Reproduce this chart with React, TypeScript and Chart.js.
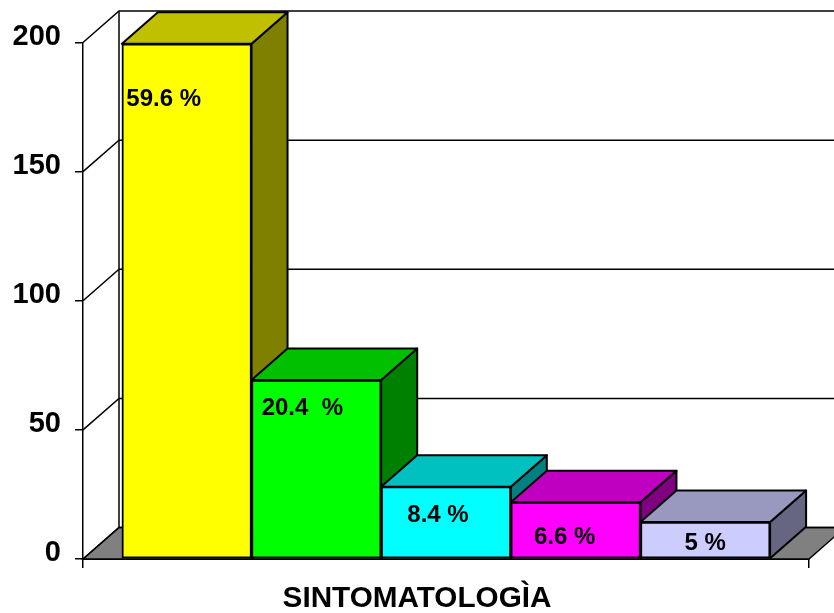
import React, { useEffect, useRef } from "react";
import { Chart, registerables } from "chart.js";

Chart.register(...registerables);

const axisTitle = "SINTOMATOLOGÌA";
const barPositions = [0, 1, 2, 3, 4];
const barValues = [199.5, 69.3, 28, 22, 14.3];
const percentLabels = ["59.6 %", "20.4  %", "8.4 %", "6.6 %", "5 %"];
const frontColors = ["#FFFF00", "#00FF00", "#00FFFF", "#FF00FF", "#CCCCFF"];
const topColors = ["#C0C000", "#00C000", "#00C0C0", "#C000C0", "#9999C0"];
const sideColors = ["#808000", "#008000", "#008080", "#800080", "#666680"];

const FONT = "'Liberation Sans', Arial, sans-serif";
const DEPTH_X = 36;
const DEPTH_Y = 31.5;
const LINE = 2;
const WALL_LINE = 1.5;
const LABEL_SHIFT: [number, number][] = [[-23, 56], [-14, 28], [-8, 29], [-11, 35], [0, 21]];

function poly(ctx: CanvasRenderingContext2D, pts: number[][], fill?: string) {
  ctx.beginPath();
  pts.forEach((p, i) => (i ? ctx.lineTo(p[0], p[1]) : ctx.moveTo(p[0], p[1])));
  ctx.closePath();
  if (fill) {
    ctx.fillStyle = fill;
    ctx.fill();
  }
  ctx.stroke();
}

const threeD = {
  id: "threeD",
  beforeDatasetsDraw(chart: any) {
    const { ctx, scales } = chart;
    const x = scales.x;
    const y = scales.y;
    const left = x.getPixelForValue(x.min);
    const right = x.getPixelForValue(x.max);
    const base = y.getPixelForValue(0);
    ctx.save();
    ctx.strokeStyle = "#000";
    ctx.lineWidth = WALL_LINE;
    // floor
    poly(ctx, [[left, base], [left + DEPTH_X, base - DEPTH_Y], [right + DEPTH_X, base - DEPTH_Y], [right, base]], "#808080");
    // walls
    y.ticks.forEach((t: any) => {
      const py = y.getPixelForValue(t.value);
      ctx.beginPath();
      ctx.moveTo(left, py);
      ctx.lineTo(left + DEPTH_X, py - DEPTH_Y);
      ctx.lineTo(right + DEPTH_X, py - DEPTH_Y);
      ctx.stroke();
    });
    ctx.beginPath();
    ctx.moveTo(left + DEPTH_X, y.getPixelForValue(y.max) - DEPTH_Y);
    ctx.lineTo(left + DEPTH_X, base - DEPTH_Y);
    ctx.stroke();
    // bar top and side faces, left to right
    ctx.lineWidth = LINE;
    ctx.lineJoin = "round";
    chart.getDatasetMeta(0).data.forEach((bar: any, i: number) => {
      const p = bar.getProps(["x", "y", "base", "width"], true);
      const l = p.x - p.width / 2;
      const r = p.x + p.width / 2;
      poly(ctx, [[r, p.y], [r + DEPTH_X, p.y - DEPTH_Y], [r + DEPTH_X, p.base - DEPTH_Y], [r, p.base]], sideColors[i]);
      poly(ctx, [[l, p.y], [l + DEPTH_X, p.y - DEPTH_Y], [r + DEPTH_X, p.y - DEPTH_Y], [r, p.y]], topColors[i]);
    });
    ctx.restore();
  },
  afterDatasetsDraw(chart: any) {
    const { ctx } = chart;
    ctx.save();
    ctx.fillStyle = "#000";
    ctx.font = `bold 24px ${FONT}`;
    ctx.textAlign = "center";
    ctx.textBaseline = "middle";
    chart.getDatasetMeta(0).data.forEach((bar: any, i: number) => {
      const p = bar.getProps(["x", "y"], true);
      ctx.fillText(percentLabels[i], p.x + LABEL_SHIFT[i][0], p.y + LABEL_SHIFT[i][1]);
    });
    // axis title, centred on the whole picture
    ctx.font = `bold 29.7px ${FONT}`;
    ctx.fillText(axisTitle, chart.width / 2, 599);
    ctx.restore();
  },
};

export default function App() {
  const ref = useRef<HTMLCanvasElement>(null);
  useEffect(() => {
    const chart = new Chart(ref.current as HTMLCanvasElement, {
      type: "bar",
      data: {
        labels: barPositions as any,
        datasets: [
          {
            data: barPositions.map((p, i) => ({ x: p, y: barValues[i] })) as any,
            backgroundColor: frontColors,
            borderColor: "#000",
            borderWidth: LINE,
            borderSkipped: false,
            barPercentage: 1,
            categoryPercentage: 1,
          },
        ],
      },
      options: {
        animation: false,
        responsive: false,
        layout: { padding: { left: 0, right: 25, top: 42.5, bottom: 45 } },
        plugins: {
          legend: { display: false },
          tooltip: { enabled: false },
          title: { display: false },
        },
        scales: {
          x: {
            type: "linear",
            offset: false,
            min: -0.8,
            max: 4.8,
            afterBuildTicks: (s: any) => {
              s.ticks = [{ value: s.min }, { value: s.max }];
            },
            afterFit: (s: any) => {
              s.height = 9;
            },
            ticks: { callback: () => "", padding: 0 },
            grid: { offset: false, drawOnChartArea: false, color: "#000", lineWidth: WALL_LINE, tickLength: 9 },
            border: { color: "#000", width: LINE },
          },
          y: {
            min: 0,
            max: 200,
            afterFit: (s: any) => {
              s.width = 83;
            },
            ticks: {
              stepSize: 50,
              color: "#000",
              font: { family: FONT, size: 29, weight: "bold" },
              labelOffset: -6,
              padding: 14,
            },
            grid: { drawOnChartArea: false, color: "#000", lineWidth: WALL_LINE, tickLength: 8 },
            border: { color: "#000", width: WALL_LINE },
          },
        },
      },
      plugins: [threeD],
    } as any);
    return () => chart.destroy();
  }, []);
  return (
    <div style={{ position: "fixed", left: 0, top: 0, width: 834, height: 613, background: "#fff" }}>
      <canvas ref={ref} width={834} height={613} style={{ display: "block" }} />
    </div>
  );
}
